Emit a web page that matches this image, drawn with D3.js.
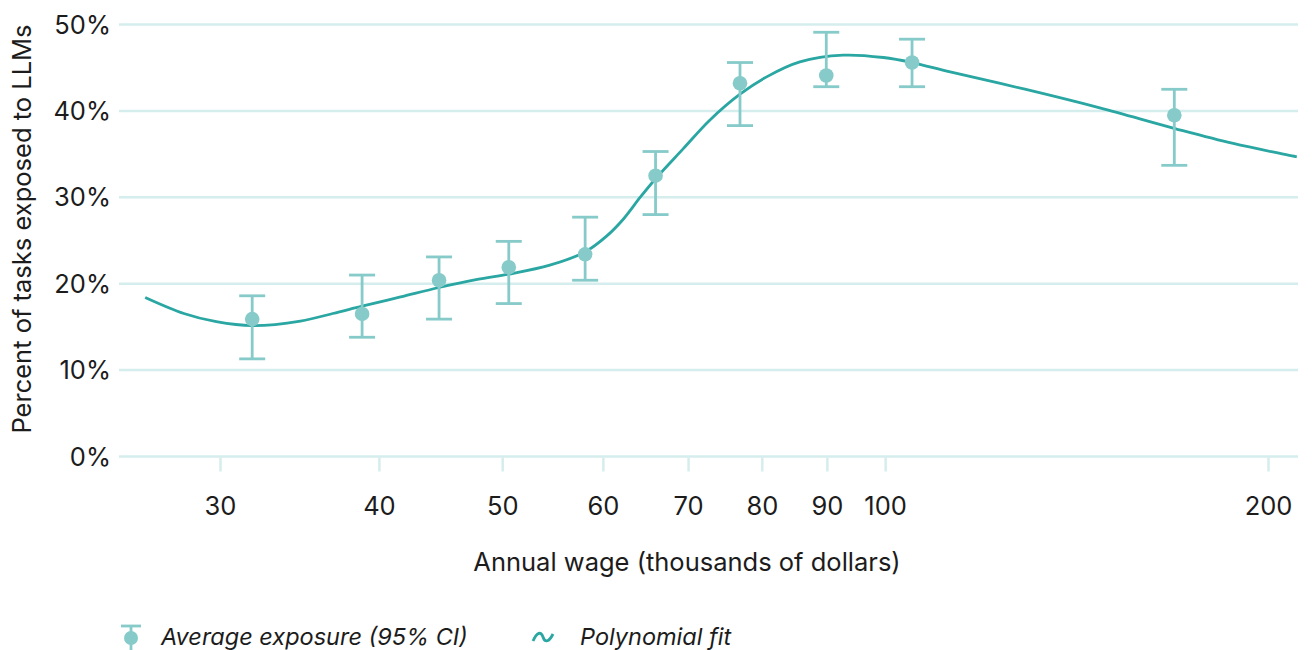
<!DOCTYPE html>
<html>
<head>
<meta charset="utf-8">
<script src="https://cdn.jsdelivr.net/npm/d3@7"></script>
<style>
  html, body { margin: 0; padding: 0; background: #ffffff; }
  svg { display: block; }
  text { font-family: Inter, "Noto Sans", sans-serif; fill: #1c1c1c; }
</style>
</head>
<body>
<svg id="chart" width="1312" height="650"></svg>
<script>
// ---------- data ----------
const wages     = [31.8, 38.8, 44.6, 50.6, 58.1, 66.0, 76.9, 89.9, 105.0, 168.8];
const exposure  = [15.9, 16.5, 20.4, 21.9, 23.4, 32.5, 43.2, 44.1, 45.6, 39.5];
const ciLow     = [11.3, 13.8, 15.9, 17.7, 20.4, 28.0, 38.3, 42.8, 42.8, 33.7];
const ciHigh    = [18.6, 21.0, 23.1, 24.9, 27.7, 35.3, 45.6, 49.1, 48.3, 42.5];

const fitWages  = [26.2, 28.1, 29.8, 31.8, 34.7, 36.8, 38.8, 41.6, 44.6, 47.8, 50.6, 54.5,
                   58.1, 60.4, 62.3, 64.2, 66.0, 69.4, 72.8, 76.9, 80.7, 85.7, 92.7, 99.7,
                   105.0, 112.5, 128.8, 147.5, 169.0, 187.8, 210.7];
const fitValues = [18.4, 16.55, 15.6, 15.15, 15.68, 16.55, 17.4, 18.47, 19.56, 20.49, 21.1, 22.14,
                   23.68, 25.5, 27.52, 30.01, 32.15, 35.63, 38.92, 41.93, 43.94, 45.67, 46.45, 46.18,
                   45.6, 44.51, 42.51, 40.35, 37.96, 36.23, 34.68];

const xTickValues = [30, 40, 50, 60, 70, 80, 90, 100, 200];
const yTickValues = [0, 10, 20, 30, 40, 50];

const xTitle = "Annual wage (thousands of dollars)";
const yTitle = "Percent of tasks exposed to LLMs";
const legendLabels = ["Average exposure (95% CI)", "Polynomial fit"];

// ---------- styles ----------
const gridColor = "#d6eded";
const dotColor  = "#86cbc9";
const lineColor = "#2aa6a3";
const fontSize = 25.5;
const legendFontSize = 23.5;

const svg = d3.select("#chart");

const plotLeft = 119, plotRight = 1298;
const x = d3.scaleLog().domain([30, 200]).range([220, 1268]);
const y = d3.scaleLinear().domain([0, 50]).range([456.5, 24.5]);

// gridlines
svg.append("g").selectAll("line").data(yTickValues).join("line")
  .attr("x1", plotLeft).attr("x2", plotRight)
  .attr("y1", d => y(d)).attr("y2", d => y(d))
  .attr("stroke", gridColor).attr("stroke-width", 2.5);

// y tick labels
svg.append("g").selectAll("text").data(yTickValues).join("text")
  .attr("x", 111).attr("y", d => y(d))
  .attr("dy", "0.36em")
  .attr("text-anchor", "end")
  .attr("font-size", fontSize)
  .text(d => d + "%");

// x axis ticks via d3 axis
const xAxis = d3.axisBottom(x).tickValues(xTickValues).tickFormat(d3.format("d"))
  .tickSizeOuter(0).tickSizeInner(14).tickPadding(25);
const gx = svg.append("g").attr("transform", `translate(0, ${y(0) + 1})`).call(xAxis);
gx.select(".domain").remove();
gx.selectAll(".tick line").attr("stroke", gridColor).attr("stroke-width", 2.5);
gx.selectAll(".tick text").attr("font-size", fontSize).attr("font-family", "Inter, sans-serif").attr("fill", "#1c1c1c");

// axis titles
svg.append("text").attr("x", 687).attr("y", 571).attr("text-anchor", "middle")
  .attr("font-size", fontSize).text(xTitle);
svg.append("text").attr("transform", "translate(31, 229) rotate(-90)")
  .attr("text-anchor", "middle").attr("font-size", fontSize).text(yTitle);

// fit curve
const fitData = fitWages.map((w, i) => [w, fitValues[i]]);
const line = d3.line().x(d => x(d[0])).y(d => y(d[1])).curve(d3.curveCatmullRom.alpha(0.5));
svg.append("path").datum(fitData)
  .attr("d", line).attr("fill", "none")
  .attr("stroke", lineColor).attr("stroke-width", 2.8);

// error bars
const pts = wages.map((w, i) => ({ w, v: exposure[i], lo: ciLow[i], hi: ciHigh[i] }));
const eg = svg.append("g");
const capW = 13;
eg.selectAll("line.v").data(pts).join("line").attr("class", "v")
  .attr("x1", d => x(d.w)).attr("x2", d => x(d.w))
  .attr("y1", d => y(d.lo)).attr("y2", d => y(d.hi))
  .attr("stroke", dotColor).attr("stroke-width", 2.8);
eg.selectAll("line.t").data(pts).join("line").attr("class", "t")
  .attr("x1", d => x(d.w) - capW).attr("x2", d => x(d.w) + capW)
  .attr("y1", d => y(d.hi)).attr("y2", d => y(d.hi))
  .attr("stroke", dotColor).attr("stroke-width", 2.8);
eg.selectAll("line.b").data(pts).join("line").attr("class", "b")
  .attr("x1", d => x(d.w) - capW).attr("x2", d => x(d.w) + capW)
  .attr("y1", d => y(d.lo)).attr("y2", d => y(d.lo))
  .attr("stroke", dotColor).attr("stroke-width", 2.8);
eg.selectAll("circle").data(pts).join("circle")
  .attr("cx", d => x(d.w)).attr("cy", d => y(d.v)).attr("r", 7.3)
  .attr("fill", dotColor);

// legend
const lg = svg.append("g");
lg.append("line").attr("x1", 131).attr("x2", 131).attr("y1", 626).attr("y2", 650)
  .attr("stroke", dotColor).attr("stroke-width", 2.8);
lg.append("line").attr("x1", 121).attr("x2", 141).attr("y1", 626).attr("y2", 626)
  .attr("stroke", dotColor).attr("stroke-width", 2.8);
lg.append("circle").attr("cx", 131).attr("cy", 638).attr("r", 7).attr("fill", dotColor);
lg.append("text").attr("x", 161).attr("y", 645).attr("font-size", legendFontSize)
  .attr("font-style", "italic").text(legendLabels[0]);

lg.append("path")
  .attr("d", "M533,641 C537,632 541,631 543,637 C545,643 549,642 553,634")
  .attr("fill", "none").attr("stroke", lineColor).attr("stroke-width", 2.8);
lg.append("text").attr("x", 580).attr("y", 645).attr("font-size", legendFontSize)
  .attr("font-style", "italic").text(legendLabels[1]);
</script>
</body>
</html>
